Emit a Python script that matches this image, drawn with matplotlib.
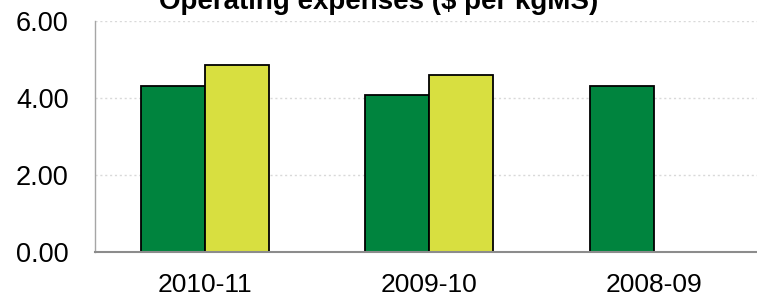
import numpy as np
import matplotlib
matplotlib.use("Agg")
import matplotlib.pyplot as plt

# data
categories = ["2010-11", "2009-10", "2008-09"]
farm_values = [4.31, 4.08, 4.31]
benchmark_values = [4.86, 4.59, np.nan]
y_ticks = [0, 2, 4, 6]

GREEN = "#00843e"
YELLOW = "#d8df40"
GRID = "#d9d9d9"
SPINE = "#a6a6a6"

plt.rcParams["font.family"] = ["Liberation Sans", "DejaVu Sans"]

W, H = 757, 301
fig = plt.figure(figsize=(W / 100, H / 100), dpi=100)
ax = fig.add_axes([95 / W, 49 / H, 662 / W, 231 / H])

x = np.arange(len(categories))
bw = 0.285
ax.bar(x - bw / 2, farm_values, bw, color=GREEN, edgecolor="black",
       linewidth=1.3, zorder=2)
ax.bar(x + bw / 2, benchmark_values, bw, color=YELLOW, edgecolor="black",
       linewidth=1.3, zorder=2)

ax.set_ylim(0, 6)
ax.set_xlim(-0.49, 2.46)
ax.set_yticks(y_ticks)
ax.set_yticklabels([f"{v:.2f}" for v in y_ticks], fontsize=19.5)
ax.set_xticks(x)
ax.set_xticklabels(categories, fontsize=19)
ax.tick_params(axis="y", length=0, pad=19)
ax.tick_params(axis="x", length=0, pad=15)

ax.yaxis.grid(True, color=GRID, linestyle=(0, (1.5, 2)), linewidth=1.0, zorder=0)
ax.set_axisbelow(True)

for s in ("top", "right"):
    ax.spines[s].set_visible(False)
ax.spines["left"].set_color(SPINE)
ax.spines["left"].set_linewidth(1.0)
ax.spines["bottom"].set_color("#8c8c8c")
ax.spines["bottom"].set_linewidth(1.5)
ax.spines["bottom"].set_zorder(3)

# the title sits partly above the top edge, as in the source image
fig.text(0.5, 1 - 9 / H, "Operating expenses ($ per kgMS)", ha="center",
         va="baseline", fontsize=20, fontweight="bold")

fig.savefig("out.png", dpi=100, facecolor="white")
